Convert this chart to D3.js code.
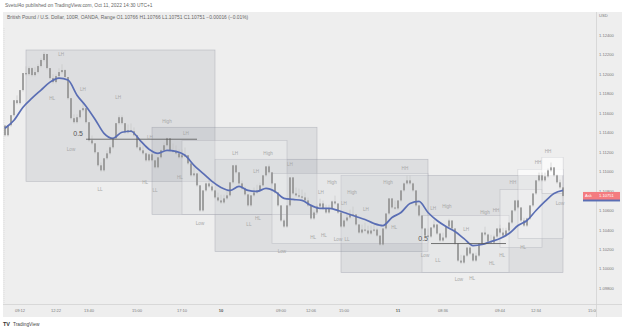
<!DOCTYPE html>
<html>
<head>
<meta charset="utf-8">
<script src="https://cdn.jsdelivr.net/npm/d3@7"></script>
<style>
  body { margin: 0; background: #fff; }
  svg { display: block; font-family: "Liberation Sans", Arial, sans-serif; }
</style>
</head>
<body>
<div id="chart"></div>
<script>
// Range bar closes (GBPUSD 100R), one per bar
const closes = [
  1.11375, 1.11478, 1.11581, 1.11735, 1.11705, 1.11839, 1.12014, 1.12003, 1.12065, 1.11993,
  1.12024, 1.12086, 1.12148, 1.12210, 1.12065, 1.11962, 1.11921, 1.11983, 1.12024, 1.12045,
  1.11973, 1.11756, 1.11550, 1.11509, 1.11560, 1.11632, 1.11653, 1.11509, 1.11323, 1.11292,
  1.11200, 1.11066, 1.11014, 1.11138, 1.11189, 1.11251, 1.11344, 1.11499, 1.11560, 1.11499,
  1.11406, 1.11426, 1.11416, 1.11375, 1.11251, 1.11220, 1.11189, 1.11117, 1.11179, 1.11117,
  1.11045, 1.11148, 1.11220, 1.11272, 1.11344, 1.11220, 1.11210, 1.11189, 1.11148, 1.11169,
  1.11169, 1.11086, 1.10963, 1.10983, 1.10860, 1.10602, 1.10808, 1.10880, 1.10849, 1.10808,
  1.10736, 1.10705, 1.10684, 1.10726, 1.10757, 1.10891, 1.11066, 1.10994, 1.10880, 1.10829,
  1.10767, 1.10654, 1.10757, 1.10787, 1.10808, 1.10860, 1.10963, 1.11055, 1.10994, 1.10880,
  1.10787, 1.10654, 1.10499, 1.10437, 1.10654, 1.10942, 1.10777, 1.10757, 1.10746, 1.10736,
  1.10705, 1.10654, 1.10520, 1.10581, 1.10643, 1.10674, 1.10623, 1.10581, 1.10623, 1.10695,
  1.10674, 1.10581, 1.10437, 1.10499, 1.10530, 1.10561, 1.10561, 1.10458, 1.10375, 1.10406,
  1.10396, 1.10365, 1.10396, 1.10406, 1.10344, 1.10252, 1.10417, 1.10571, 1.10726, 1.10633,
  1.10623, 1.10705, 1.10808, 1.10880, 1.10911, 1.10880, 1.10808, 1.10654, 1.10550, 1.10417,
  1.10344, 1.10334, 1.10427, 1.10458, 1.10365, 1.10293, 1.10324, 1.10437, 1.10499, 1.10417,
  1.10262, 1.10087, 1.10066, 1.10138, 1.10221, 1.10159, 1.10087, 1.10138, 1.10262, 1.10375,
  1.10355, 1.10283, 1.10272, 1.10334, 1.10417, 1.10375, 1.10344, 1.10396, 1.10478, 1.10602,
  1.10705, 1.10633, 1.10499, 1.10447, 1.10520, 1.10654, 1.10777, 1.10911, 1.10963, 1.10911,
  1.10952, 1.11014, 1.11045, 1.10963, 1.10891, 1.10839, 1.10751
];

// Moving average, read every 3rd bar
const maStep = 3;
const maValues = [
  1.11447, 1.11529, 1.11663, 1.11756, 1.11839, 1.11921, 1.11962, 1.11942, 1.11787, 1.11674,
  1.11540, 1.11395, 1.11344, 1.11406, 1.11416, 1.11323, 1.11231, 1.11189, 1.11220, 1.11210,
  1.11169, 1.11066, 1.10983, 1.10901, 1.10839, 1.10808, 1.10849, 1.10808, 1.10798, 1.10829,
  1.10798, 1.10726, 1.10715, 1.10705, 1.10654, 1.10623, 1.10623, 1.10602, 1.10571, 1.10540,
  1.10509, 1.10468, 1.10447, 1.10530, 1.10581, 1.10674, 1.10695, 1.10581, 1.10499, 1.10437,
  1.10386, 1.10313, 1.10241, 1.10252, 1.10283, 1.10313, 1.10365, 1.10447, 1.10499, 1.10602,
  1.10695, 1.10777, 1.10808
];

// Drawn rectangles: [startBar, endBar, topPrice, bottomPrice]
const rangeBoxes = [
  [7, 70, 1.12251, 1.10901],
  [49, 104, 1.11457, 1.10561],
  [70, 141, 1.11128, 1.10179],
  [112, 186, 1.10963, 1.09963]
];
const lightBoxes = [
  [59, 94, 1.11323, 1.10561],
  [89, 141, 1.10983, 1.10262],
  [139, 168, 1.10550, 1.09963],
  [165, 179, 1.10818, 1.10221],
  [171, 186, 1.11024, 1.10313],
  [179, 186, 1.11148, 1.10777]
];
const dottedZones = [
  [171, 186, 1.11024, 1.10963],
  [179, 186, 1.11148, 1.10963]
];

// 0.5 levels: [startBar, endBar, price]
const halfLevels = [
  [27, 64, 1.11334],
  [142, 167, 1.10262]
];

// Structure labels: [text, bar, price]
const pivotLabels = [
  ["LH", 18.7, 1.12210], ["HL", 15.7, 1.11756], ["LH", 26, 1.11849], ["LH", 37.7, 1.11766],
  ["Low", 22, 1.11231], ["High", 54, 1.11519], ["LH", 60.3, 1.11395], ["LH", 48.3, 1.11354],
  ["HL", 46.7, 1.10891], ["LL", 31.7, 1.10818], ["LL", 50, 1.10808], ["HL", 58.3, 1.10942],
  ["Low", 65, 1.10468], ["LH", 76.7, 1.11189], ["High", 87.7, 1.11189], ["LH", 83.7, 1.11004],
  ["LH", 95, 1.11076], ["LL", 81.3, 1.10458], ["HL", 84.3, 1.10519], ["Low", 92.3, 1.10179],
  ["High", 109, 1.10891], ["LH", 105.3, 1.10787], ["HL", 102.7, 1.10324], ["HL", 106.3, 1.10344],
  ["Low", 111, 1.10303], ["LL", 114, 1.10303], ["High", 115.7, 1.10787], ["LH", 113, 1.10674],
  ["LH", 120.3, 1.10612], ["HL", 129.7, 1.10427], ["High", 127.7, 1.10891], ["HH", 133.3, 1.11035],
  ["LH", 142.7, 1.10622], ["High", 147.3, 1.10643], ["Low", 140, 1.10138], ["LL", 144.3, 1.10087],
  ["Low", 151.3, 1.09891], ["HL", 155.7, 1.09901], ["LH", 153.7, 1.10406], ["High", 160, 1.10581],
  ["HH", 163.7, 1.10602], ["HL", 162.3, 1.10056], ["HL", 165.7, 1.10138], ["HH", 169.3, 1.10891],
  ["HL", 172.7, 1.10221], ["HH", 177.7, 1.11097], ["HH", 181, 1.11210], ["Low", 185, 1.10674]
];

// Axes
const priceTicks = [1.124, 1.122, 1.120, 1.118, 1.116, 1.114, 1.112, 1.110, 1.108, 1.106, 1.104, 1.102, 1.100, 1.098];
const timeLabels = ["09:12", "12:22", "13:40", "15:00", "17:10", "10", "09:00", "12:06", "15:00", "11", "08:36", "09:44", "12:34", "15:00"];
const timeBars = [5, 17, 28, 44, 59, 72, 92, 102, 113, 131, 146, 165, 177, 196];
const dayLabels = ["10", "11"];

const headerText = "Svetul4o published on TradingView.com, Oct 11, 2022 14:30 UTC+1";
const legendText = "British Pound / U.S. Dollar, 100R, OANDA, Range  O1.10766  H1.10766  L1.10751  C1.10751  \u22120.00016 (\u22120.01%)";
const askPrice = 1.10751;
const barRange = 0.001;

const width = 625, height = 331;
const pane = { left: 3, right: 596, top: 12, bottom: 304, outerRight: 622, outerBottom: 317 };

const svg = d3.select("#chart").append("svg")
    .attr("width", width)
    .attr("height", height);

// Scales
const x = d3.scaleLinear()
    .domain([0, closes.length - 1])
    .range([5, 563]);
const y = d3.scaleLinear()
    .domain([1.098, 1.124])
    .range([288.5, 35.5]);

const defs = svg.append("defs");
defs.append("clipPath").attr("id", "plotClip")
    .append("rect")
    .attr("x", pane.left).attr("y", pane.top)
    .attr("width", pane.right - pane.left).attr("height", pane.bottom - pane.top);
const pat = defs.append("pattern").attr("id", "dots")
    .attr("width", 2).attr("height", 2).attr("patternUnits", "userSpaceOnUse");
pat.append("rect").attr("width", 2).attr("height", 2).attr("fill", "rgba(255,255,255,0.45)");
pat.append("circle").attr("cx", 1).attr("cy", 1).attr("r", 0.5).attr("fill", "#ffffff");

// Panel background
svg.append("rect")
    .attr("x", pane.left).attr("y", pane.top)
    .attr("width", pane.outerRight - pane.left)
    .attr("height", pane.outerBottom - pane.top)
    .attr("fill", "#eeeeee");

svg.append("line")
    .attr("x1", pane.left + 1).attr("x2", pane.left + 1)
    .attr("y1", 28).attr("y2", pane.bottom)
    .attr("stroke", "#d4d4d4").attr("stroke-width", 0.6)
    .attr("stroke-dasharray", "1,1");

const plot = svg.append("g").attr("clip-path", "url(#plotClip)");

// Boxes (drawn under the series)
function drawBoxes(list, fill, stroke) {
    plot.append("g").selectAll("rect")
        .data(list)
        .join("rect")
        .attr("x", d => x(d[0]))
        .attr("y", d => y(d[2]))
        .attr("width", d => x(d[1]) - x(d[0]))
        .attr("height", d => y(d[3]) - y(d[2]))
        .attr("fill", fill)
        .attr("stroke", stroke)
        .attr("stroke-width", 0.6);
}
drawBoxes(rangeBoxes, "rgba(135,140,158,0.16)", "rgba(140,144,158,0.5)");
drawBoxes(lightBoxes, "rgba(255,255,255,0.28)", "rgba(170,172,180,0.6)");
drawBoxes(dottedZones, "url(#dots)", "none");

// Candles (range bars)
const bars = closes.map((c, i) => {
    const o = i === 0 ? c + barRange : closes[i - 1];
    const lo = Math.min(o, c), hi = Math.max(o, c);
    return { i, o, c, lo, hi };
});

plot.append("g").selectAll("line")
    .data(bars)
    .join("line")
    .attr("x1", d => x(d.i)).attr("x2", d => x(d.i))
    .attr("y1", d => y(Math.max(d.hi, d.lo + barRange * 0.8)))
    .attr("y2", d => y(d.lo - barRange * 0.15))
    .attr("stroke", "#c2c2c2")
    .attr("stroke-width", 0.6);

plot.append("g").selectAll("rect")
    .data(bars)
    .join("rect")
    .attr("x", d => x(d.i) - 0.75)
    .attr("width", 1.5)
    .attr("y", d => y(d.hi))
    .attr("height", d => Math.max(1.2, y(d.lo) - y(d.hi)))
    .attr("fill", "#8a8a8a");

// Moving average
const maLine = d3.line()
    .x((d, i) => x(i * maStep))
    .y(d => y(d))
    .curve(d3.curveMonotoneX);

plot.append("path")
    .datum(maValues)
    .attr("d", maLine)
    .attr("fill", "none")
    .attr("stroke", "#5a6eb4")
    .attr("stroke-width", 1.7);

// 0.5 levels
plot.append("g").selectAll("line")
    .data(halfLevels)
    .join("line")
    .attr("x1", d => x(d[0])).attr("x2", d => x(d[1]))
    .attr("y1", d => y(d[2])).attr("y2", d => y(d[2]))
    .attr("stroke", "#555")
    .attr("stroke-width", 0.8);

plot.append("g").selectAll("text")
    .data(halfLevels)
    .join("text")
    .attr("x", d => x(d[0]) - 3)
    .attr("y", d => y(d[2]) - 3)
    .attr("text-anchor", "end")
    .attr("font-size", 7)
    .attr("fill", "#555")
    .text("0.5");

// Structure labels
plot.append("g").selectAll("text")
    .data(pivotLabels)
    .join("text")
    .attr("x", d => x(d[1]))
    .attr("y", d => y(d[2]))
    .attr("dy", "0.35em")
    .attr("text-anchor", "middle")
    .attr("font-size", 4.6)
    .attr("fill", "#a8a8a8")
    .text(d => d[0]);

// Price axis
svg.append("line")
    .attr("x1", pane.right + 0.5).attr("x2", pane.right + 0.5)
    .attr("y1", pane.top).attr("y2", pane.outerBottom)
    .attr("stroke", "#d2d2d2").attr("stroke-width", 0.8);

svg.append("g").selectAll("text")
    .data(priceTicks)
    .join("text")
    .attr("x", 599)
    .attr("y", d => y(d))
    .attr("dy", "0.35em")
    .attr("font-size", 4.1)
    .attr("fill", "#7a7a7a")
    .text(d => d.toFixed(5));

svg.append("text")
    .attr("x", 599).attr("y", 17)
    .attr("font-size", 4.1)
    .attr("fill", "#7a7a7a")
    .text("USD");

// Last value labels (MA label sits just under the Ask label)
svg.append("rect")
    .attr("x", 583).attr("y", y(askPrice) - 3.5)
    .attr("width", 37).attr("height", 9)
    .attr("fill", "#5a6eb4");
svg.append("rect")
    .attr("x", 583).attr("y", y(askPrice) - 4)
    .attr("width", 37).attr("height", 7.6)
    .attr("fill", "#f47c80");
svg.append("text")
    .attr("x", 585).attr("y", y(askPrice) - 0.2)
    .attr("dy", "0.35em")
    .attr("font-size", 4.1).attr("fill", "#fff")
    .text("Ask");
svg.append("text")
    .attr("x", 599).attr("y", y(askPrice) - 0.2)
    .attr("dy", "0.35em")
    .attr("font-size", 4.1).attr("fill", "#fff")
    .text(askPrice.toFixed(5));

// Time axis
svg.append("line")
    .attr("x1", pane.left).attr("x2", pane.outerRight)
    .attr("y1", pane.bottom + 0.5).attr("y2", pane.bottom + 0.5)
    .attr("stroke", "#d2d2d2").attr("stroke-width", 0.8);

const timeClip = defs.append("clipPath").attr("id", "timeClip");
timeClip.append("rect")
    .attr("x", pane.left).attr("y", pane.bottom)
    .attr("width", pane.right - pane.left).attr("height", pane.outerBottom - pane.bottom);

svg.append("g").attr("clip-path", "url(#timeClip)")
    .selectAll("text")
    .data(timeLabels)
    .join("text")
    .attr("x", (d, i) => x(timeBars[i]))
    .attr("y", 311)
    .attr("dy", "0.35em")
    .attr("text-anchor", "middle")
    .attr("font-size", 4.1)
    .attr("font-weight", d => dayLabels.includes(d) ? "bold" : "normal")
    .attr("fill", d => dayLabels.includes(d) ? "#555" : "#7a7a7a")
    .text(d => d);

// Header and legend
svg.append("text")
    .attr("x", 5).attr("y", 5)
    .attr("dy", "0.35em")
    .attr("font-size", 4.9)
    .attr("fill", "#666")
    .text(headerText);

svg.append("text")
    .attr("x", 7).attr("y", 17)
    .attr("dy", "0.35em")
    .attr("font-size", 4.9)
    .attr("fill", "#666")
    .text(legendText);

// TradingView mark
svg.append("text")
    .attr("x", 3).attr("y", 324)
    .attr("dy", "0.35em")
    .attr("font-size", 5.5)
    .attr("font-weight", "bold")
    .attr("fill", "#333")
    .text("TV");
svg.append("text")
    .attr("x", 13).attr("y", 324)
    .attr("dy", "0.35em")
    .attr("font-size", 4.8)
    .attr("fill", "#444")
    .text("TradingView");
</script>
</body>
</html>
